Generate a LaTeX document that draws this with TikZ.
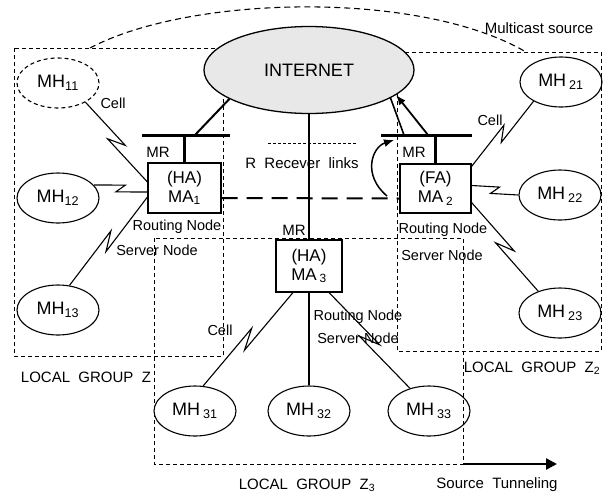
\documentclass[tikz,border=0pt]{standalone}
\usepackage{fontspec}
\setmainfont{Liberation Sans}
\usetikzlibrary{shapes.geometric,calc,arrows.meta}
\begin{document}
\begin{tikzpicture}[x=1pt,y=-1pt,
  every node/.style={font=\fontsize{15}{17}\selectfont, inner sep=0pt},
  mh/.style={draw, ellipse, minimum width=82pt, minimum height=50pt, inner sep=0pt, line width=1.1pt, font=\fontsize{18}{20}\selectfont},
  ma/.style={draw, rectangle, fill=white, line width=1.1pt, inner sep=0pt, align=center, font=\fontsize{17}{19}\selectfont},
  zone/.style={draw, dash pattern=on 4pt off 3pt, line width=0.9pt},
  bar/.style={line width=3pt},
  link/.style={line width=1.1pt},
  small/.style={font=\fontsize{14.5}{16}\selectfont},
  zz/.style={to path={-- ($(\tikztostart)!0.58!(\tikztotarget)!#1!90:(\tikztotarget)$) -- ($(\tikztostart)!0.42!(\tikztotarget)!#1!-90:(\tikztotarget)$) -- (\tikztotarget)}},
  zz/.default=5pt
]
\useasboundingbox (0,0) rectangle (608,496);

% zones
\draw[zone] (14,48) rectangle (223,356);
\draw[zone] (397,52) rectangle (601,351);
\draw[zone] (154,238) rectangle (463,464);

% multicast curve
\coordinate (mc1) at (90,48);
\coordinate (mc2) at (526,52);
\draw[dash pattern=on 6pt off 4pt, line width=1.1pt] (mc1) .. controls (190,-5) and (420,-10) .. (mc2);
\node (mcs) at (539,28) {Multicast source};

% internet
\node[draw, ellipse, fill=gray!18, minimum width=210pt, minimum height=87pt, line width=1.3pt, font=\fontsize{18}{20}\selectfont] (inet) at (309,70) {INTERNET};

% mobile hosts
\node[mh, dash pattern=on 4pt off 3pt] (mh11) at (58,83) {MH\textsubscript{11}};
\node[mh] (mh12) at (58,198) {MH\textsubscript{12}};
\node[mh] (mh13) at (58,310) {MH\textsubscript{13}};
\node[mh] (mh21) at (561,82) {MH\,\textsubscript{21}};
\node[mh] (mh22) at (560,195) {MH\,\textsubscript{22}};
\node[mh] (mh23) at (560,313) {MH\,\textsubscript{23}};
\node[mh] (mh31) at (195,411) {MH\,\textsubscript{31}};
\node[mh] (mh32) at (309,411) {MH\,\textsubscript{32}};
\node[mh] (mh33) at (429,411) {MH\,\textsubscript{33}};

% mobility agents
\node[ma, minimum width=73pt, minimum height=50pt] (ma1) at (184.5,188) {(HA)\\MA\textsubscript{1}};
\node[ma, minimum width=71pt, minimum height=49pt] (ma2) at (435.5,188.5) {(FA)\\MA\,\textsubscript{2}};
\node[ma, minimum width=66pt, minimum height=52pt] (ma3) at (309,266) {(HA)\\MA\,\textsubscript{3}};

% MR bars
\coordinate (b1l) at (142,135); \coordinate (b1r) at (230,135); \coordinate (b1j) at (195,135);
\coordinate (b2l) at (381,135); \coordinate (b2r) at (472,135); \coordinate (b2j) at (404,135); \coordinate (b2k) at (428,135);
\draw[bar] (b1l) -- (b1r);
\draw[bar] (b2l) -- (b2r);
\draw[line width=2.5pt] (ma1.north) -- (ma1.north |- b1l);
\draw[line width=2.5pt] (ma2.north) -- (ma2.north |- b2l);
\draw[line width=2pt] (b1j) -- (inet.200);
\draw[line width=1.6pt] (b2j) -- (inet.-19);
\draw[line width=1.8pt, -{Latex[length=10pt,width=8pt]}] (b2k) -- (inet.-16);
\node (mr1) at (158,152) {MR};
\node (mr2) at (414,152) {MR};
\node (mr3) at (294,230) {MR};

% curved arrow
\coordinate (ca1) at (387,196); \coordinate (ca2) at (394,140);
\draw[line width=1.5pt, -{Latex[length=10pt,width=8pt]}] (ca1) .. controls (362,175) and (372,147) .. (ca2);

% receiver links
\coordinate (rl1) at (268,143); \coordinate (rl2) at (357,143);
\draw[dash pattern=on 3pt off 2pt, line width=0.9pt] (rl1) -- (rl2);
\node (rrl) at (302,163) {R\ \ Recever\ \ links};

% dashed MA1-MA2
\draw[line width=2pt, dash pattern=on 16pt off 9pt] ([yshift=-10pt]ma1.east) -- ([yshift=-10pt]ma2.west);

% internet to MA3 to MH32
\draw[link] (inet.south) -- (ma3.north);
\draw[link] (ma3.south) -- (mh32.north);

% wireless links
\draw[link] (mh11.-35) to[zz] ([yshift=6pt]ma1.west);
\draw[link] (mh12.20) to[zz=4pt] ([yshift=-4pt]ma1.west);
\draw[link] (mh13.65) to[zz] ([yshift=-9pt]ma1.west);
\draw[link] (mh21.215) to[zz] ([yshift=-3pt]ma2.north east);
\draw[link] (mh22.west) to[zz=4pt] ([yshift=3pt]ma2.east);
\draw[link] (mh23.135) to[zz] ([yshift=-14pt]ma2.east);
\draw[link] (mh31.72) to[zz] ([xshift=-16pt]ma3.south);
\draw[link] (mh33.130) to[zz] ([xshift=20pt]ma3.south);

% labels
\node[small] (c1) at (113,103) {Cell};
\node[small] (c2) at (490,120) {Cell};
\node[small] (c3) at (220,330) {Cell};
\node[small] (rn1) at (177,227) {Routing\ Node};
\node[small] (sn1) at (157,250) {Server\ Node};
\node[small] (rn2) at (443,230) {Routing\ Node};
\node[small] (sn2) at (442,255) {Server\ Node};
\node[small] (rn3) at (358,317) {Routing\ Node};
\node[small] (sn3) at (358,338) {Server\ Node};

\node (lg1) at (86,377) {LOCAL\ \ GROUP\ \ Z};
\node (lg2) at (532,368) {LOCAL\ \ GROUP\ \ Z\textsubscript{2}};
\node (lg3) at (307,485) {LOCAL\ \ GROUP\ \ Z\textsubscript{3}};
\node (stl) at (497,485) {Source\ \ Tunneling};

% source tunneling arrow
\coordinate (st1) at (463,464); \coordinate (st2) at (557,464);
\draw[line width=2.5pt, -{Triangle[length=11pt,width=11pt]}] (st1) -- (st2);
\end{tikzpicture}
\end{document}
